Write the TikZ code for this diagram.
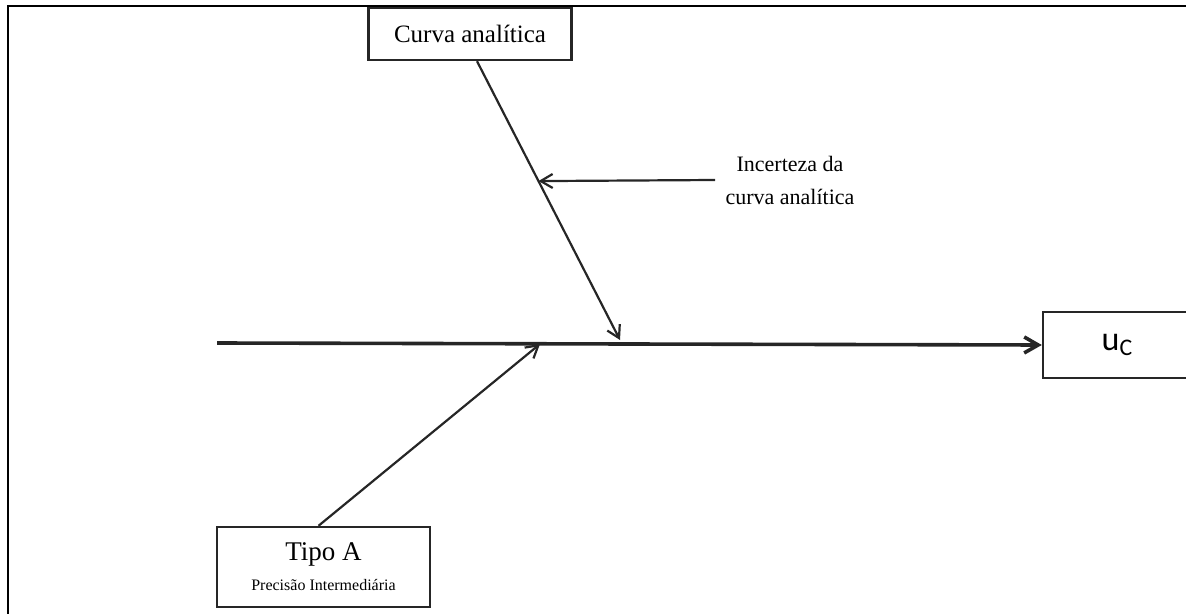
\documentclass[tikz,border=0pt]{standalone}
\usepackage{fontspec}
\setmainfont{Liberation Serif}
\newfontfamily\ucfont{Carlito}
\usetikzlibrary{arrows.meta, positioning, calc}

\begin{document}
\begin{tikzpicture}[
  x=0.5pt, y=-0.5pt,
  box/.style = {
    draw=black!85,
    line width=1.2pt,
    fill=white,
    align=center,
    inner sep=0pt
  },
  spine/.style = {-{Straight Barb[length=7pt, width=8pt]}, line width=1.8pt, black!85},
  bone/.style = {-{Straight Barb[length=6pt, width=7pt]}, line width=1.1pt, black!85},
  frameline/.style = {line width=0.8pt, black}
]
\clip (0,0) rectangle (1186,614);

% Outer frame (top and left edges only)
\draw[frameline] (1186,6) -- (8,6) -- (8,614);

% Boxes
\node[box, minimum width=101.5pt, minimum height=26pt, font=\fontsize{12.5}{14}\selectfont]
  (curva) at (470,34) {Curva analítica};

\node[box, minimum width=106.5pt, minimum height=40pt]
  (tipo) at (323.5,567) {{\fontsize{13.5}{16}\selectfont Tipo A}\\[3pt]{\fontsize{8}{9}\selectfont Precisão Intermediária}};

\node[box, minimum width=74.5pt, minimum height=33pt, font=\ucfont\fontsize{17}{19}\selectfont]
  (uc) at (1117.5,345) {u\textsubscript{C}};

% Label of the small arrow
\node[align=center, inner sep=5pt, font=\fontsize{11}{16.5}\selectfont]
  (inc) at (790,180) {Incerteza da\\curva analítica};

% Helper points
\coordinate (tail) at (217,343);
\coordinate (topfoot) at ([xshift=3.5pt]curva.south);
\coordinate (hitA) at (620,340);
\coordinate (hitB) at (540,344);
\coordinate (onslope) at ($(topfoot)!0.43!(hitA)$);

% Main spine
\draw[spine] (tail) -- (uc.west);

% Branches
\draw[bone] (topfoot) -- (hitA);
\draw[bone] ([xshift=-2.5pt]tipo.north) -- (hitB);
\draw[bone] (inc.west) -- (onslope);

\end{tikzpicture}
\end{document}
